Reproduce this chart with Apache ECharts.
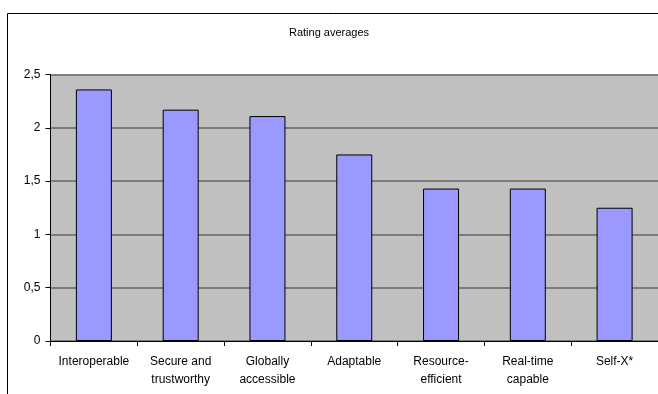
<!DOCTYPE html>
<html lang="en">
<head>
    <meta charset="UTF-8">
    <title>Rating averages</title>
    <script src="https://cdn.jsdelivr.net/npm/echarts@6/dist/echarts.min.js"></script>
    <style>
        html, body {
            margin: 0;
            padding: 0;
            background: #fff;
        }
        #chart {
            width: 658px;
            height: 394px;
        }
    </style>
</head>
<body style="overflow: hidden">
<div id="chart"></div>
<script>
    var categories = ['Interoperable', 'Secure and\ntrustworthy', 'Globally\naccessible', 'Adaptable',
        'Resource-\nefficient', 'Real-time\ncapable', 'Self-X*']
    var ratings = [2.36, 2.17, 2.11, 1.75, 1.43, 1.43, 1.25]
    var yTicks = {min: 0, max: 2.5, step: 0.5}

    var font = '"Liberation Sans", Arial, sans-serif'
    var myChart = echarts.init(document.getElementById('chart'))
    myChart.setOption({
        animation: false,
        title: {
            text: 'Rating averages',
            left: 'center',
            top: 22,
            textStyle: {fontFamily: font, fontSize: 11, fontWeight: 'normal', color: '#000'}
        },
        graphic: [{
            type: 'rect',
            shape: {x: 7.5, y: 13.5, width: 720, height: 420},
            style: {fill: 'none', stroke: '#000', lineWidth: 1},
            silent: true
        }],
        grid: {left: 50.5, top: 74.5, width: 609, height: 266.5, backgroundColor: '#c0c0c0', show: true, borderWidth: 0},
        xAxis: {
            type: 'category',
            data: categories,
            axisLine: {lineStyle: {color: '#000', width: 1}},
            axisTick: {show: true, length: 5, lineStyle: {color: '#000'}},
            axisLabel: {fontFamily: font, fontSize: 12, color: '#000', margin: 12, lineHeight: 18, interval: 0}
        },
        yAxis: {
            type: 'value',
            min: yTicks.min,
            max: yTicks.max,
            interval: yTicks.step,
            axisLine: {show: true, lineStyle: {color: '#000', width: 1}},
            axisTick: {show: true, length: 5, lineStyle: {color: '#000'}},
            axisLabel: {
                fontFamily: font, fontSize: 12, color: '#000', margin: 10,
                formatter: function (v) { return String(v).replace('.', ',') }
            },
            splitLine: {show: true, lineStyle: {color: '#666', width: 1.6}}
        },
        series: [{
            type: 'bar',
            data: ratings,
            barWidth: 36,
            itemStyle: {color: '#9999ff', borderColor: '#000', borderWidth: 1}
        }]
    })
</script>
</body>
</html>
